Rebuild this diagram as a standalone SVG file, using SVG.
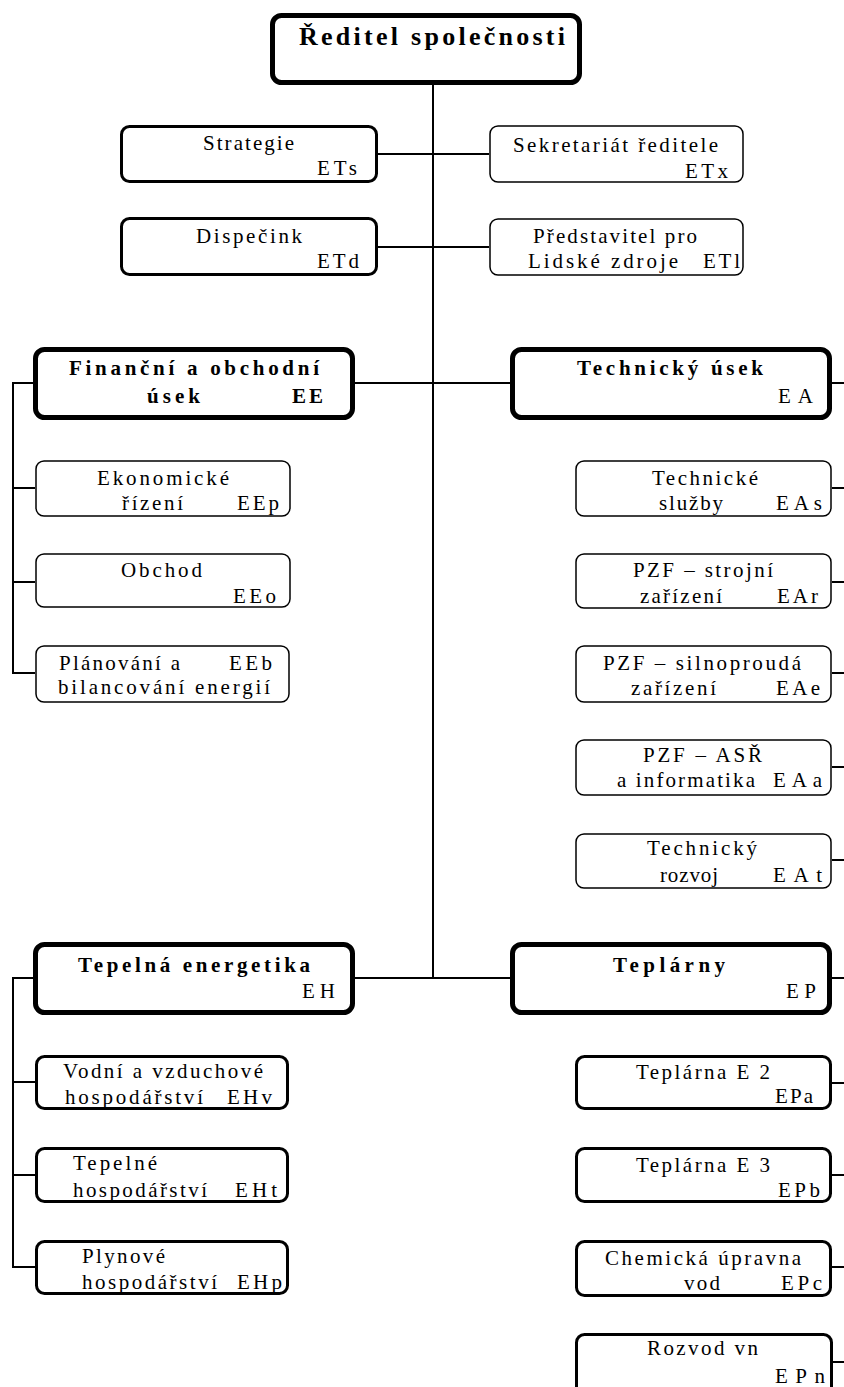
<svg xmlns="http://www.w3.org/2000/svg" width="844" height="1387" viewBox="0 0 844 1387">
<style>
text{font-family:"Liberation Serif","Times New Roman",serif;font-size:21px;fill:#000}
.b{font-weight:bold;font-size:21px}
.t{font-weight:bold;font-size:26px}
.k5{fill:#fff;stroke:#000;stroke-width:5}
.k3{fill:#fff;stroke:#000;stroke-width:3}
.k1{fill:#fff;stroke:#000;stroke-width:1.5}
.c{fill:none;stroke:#000;stroke-width:2}
</style>
<rect width="844" height="1387" fill="#fff"/>
<g id="connectors">
<path class="c" d="M433,85 V978"/>
<path class="c" d="M378,154 H489 M378,247 H489"/>
<path class="c" d="M355,383 H510 M355,978 H510"/>
<path class="c" d="M35,383 H13 V673 H35 M13,488 H35 M13,582 H35"/>
<path class="c" d="M35,978 H13 V1267 H35 M13,1082 H35 M13,1175 H35"/>
<path class="c" d="M832,383 H844 M832,488 H844 M832,582 H844 M832,673 H844 M832,767 H844 M832,860 H844 M832,978 H844 M832,1083 H844 M832,1175 H844 M832,1267 H844 M832,1362 H844"/>
</g>
<g id="reditel"><rect class="k5" x="272.5" y="15.5" width="307" height="67" rx="9"/>
<text class="t" x="299" y="45" textLength="266" lengthAdjust="spacing">Ředitel společnosti</text></g>
<g id="strategie"><rect class="k3" x="121.5" y="126.5" width="255" height="55" rx="8"/>
<text x="203" y="150" textLength="91" lengthAdjust="spacing">Strategie</text>
<text x="317" y="175" textLength="40" lengthAdjust="spacing">ETs</text></g>
<g id="dispecink"><rect class="k3" x="121.5" y="218.5" width="255" height="56" rx="8"/>
<text x="196" y="243" textLength="106" lengthAdjust="spacing">Dispečink</text>
<text x="317" y="268" textLength="42" lengthAdjust="spacing">ETd</text></g>
<g id="sekretariat"><rect class="k1" x="490" y="126" width="253" height="56" rx="8"/>
<text x="513" y="152" textLength="205" lengthAdjust="spacing">Sekretariát ředitele</text>
<text x="685" y="178" textLength="43" lengthAdjust="spacing">ETx</text></g>
<g id="predstavitel"><rect class="k1" x="490" y="219" width="253" height="56" rx="8"/>
<text x="533" y="243" textLength="164" lengthAdjust="spacing">Představitel pro</text>
<text x="528" y="268" textLength="150" lengthAdjust="spacing">Lidské zdroje</text>
<text x="703" y="268" textLength="37" lengthAdjust="spacing">ETl</text></g>
<g id="financni"><rect class="k5" x="35.5" y="349.5" width="317" height="68" rx="9"/>
<text class="b" x="69" y="375" textLength="250" lengthAdjust="spacing">Finanční a obchodní</text>
<text class="b" x="147" y="403" textLength="53" lengthAdjust="spacing">úsek</text>
<text class="b" x="292" y="403" textLength="31" lengthAdjust="spacing">EE</text></g>
<g id="technicky"><rect class="k5" x="512.5" y="349.5" width="317" height="68" rx="9"/>
<text class="b" x="577" y="375" textLength="186" lengthAdjust="spacing">Technický úsek</text>
<text x="778" y="403" textLength="35" lengthAdjust="spacing">EA</text></g>
<g id="ekonomicke"><rect class="k1" x="36" y="461" width="254" height="55" rx="8"/>
<text x="97" y="485" textLength="132" lengthAdjust="spacing">Ekonomické</text>
<text x="122" y="510" textLength="61" lengthAdjust="spacing">řízení</text>
<text x="237" y="510" textLength="42" lengthAdjust="spacing">EEp</text></g>
<g id="obchod"><rect class="k1" x="36" y="554" width="254" height="53" rx="8"/>
<text x="121" y="577" textLength="81" lengthAdjust="spacing">Obchod</text>
<text x="233" y="603" textLength="43" lengthAdjust="spacing">EEo</text></g>
<g id="planovani"><rect class="k1" x="36" y="646" width="253" height="56" rx="8"/>
<text x="59" y="670" textLength="121" lengthAdjust="spacing">Plánování a</text>
<text x="229" y="670" textLength="43" lengthAdjust="spacing">EEb</text>
<text x="58" y="694" textLength="212" lengthAdjust="spacing">bilancování energií</text></g>
<g id="sluzby"><rect class="k1" x="576" y="461" width="255" height="55" rx="8"/>
<text x="652" y="485" textLength="106" lengthAdjust="spacing">Technické</text>
<text x="659" y="510" textLength="64" lengthAdjust="spacing">služby</text>
<text x="776" y="510" textLength="46" lengthAdjust="spacing">EAs</text></g>
<g id="strojni"><rect class="k1" x="576" y="554" width="255" height="54" rx="8"/>
<text x="633" y="577" textLength="140" lengthAdjust="spacing">PZF – strojní</text>
<text x="640" y="603" textLength="82" lengthAdjust="spacing">zařízení</text>
<text x="777" y="603" textLength="41" lengthAdjust="spacing">EAr</text></g>
<g id="silnoprouda"><rect class="k1" x="576" y="646" width="255" height="56" rx="8"/>
<text x="603" y="670" textLength="198" lengthAdjust="spacing">PZF – silnoproudá</text>
<text x="631" y="695" textLength="85" lengthAdjust="spacing">zařízení</text>
<text x="776" y="695" textLength="44" lengthAdjust="spacing">EAe</text></g>
<g id="asr"><rect class="k1" x="576" y="740" width="255" height="55" rx="8"/>
<text x="643" y="762" textLength="119" lengthAdjust="spacing">PZF – ASŘ</text>
<text x="617" y="787" textLength="138" lengthAdjust="spacing">a informatika</text>
<text x="773" y="787" textLength="49" lengthAdjust="spacing">EAa</text></g>
<g id="rozvoj"><rect class="k1" x="576" y="834" width="255" height="54" rx="8"/>
<text x="647" y="855" textLength="110" lengthAdjust="spacing">Technický</text>
<text x="660" y="882" textLength="58" lengthAdjust="spacing">rozvoj</text>
<text x="773" y="882" textLength="49" lengthAdjust="spacing">EAt</text></g>
<g id="tepelna"><rect class="k5" x="35.5" y="944.5" width="317" height="68" rx="9"/>
<text class="b" x="78" y="972" textLength="232" lengthAdjust="spacing">Tepelná energetika</text>
<text x="302" y="998" textLength="33" lengthAdjust="spacing">EH</text></g>
<g id="teplarny"><rect class="k5" x="512.5" y="944.5" width="317" height="68" rx="9"/>
<text class="b" x="613" y="972" textLength="112" lengthAdjust="spacing">Teplárny</text>
<text x="786" y="998" textLength="30" lengthAdjust="spacing">EP</text></g>
<g id="vodni"><rect class="k3" x="36.5" y="1056.5" width="251" height="52" rx="8"/>
<text x="63" y="1078" textLength="200" lengthAdjust="spacing">Vodní a vzduchové</text>
<text x="65" y="1104" textLength="138" lengthAdjust="spacing">hospodářství</text>
<text x="227" y="1104" textLength="45" lengthAdjust="spacing">EHv</text></g>
<g id="tepelne"><rect class="k3" x="36.5" y="1148.5" width="251" height="53" rx="8"/>
<text x="73" y="1170" textLength="84" lengthAdjust="spacing">Tepelné</text>
<text x="73" y="1197" textLength="134" lengthAdjust="spacing">hospodářství</text>
<text x="235" y="1197" textLength="42" lengthAdjust="spacing">EHt</text></g>
<g id="plynove"><rect class="k3" x="36.5" y="1241.5" width="251" height="52" rx="8"/>
<text x="82" y="1263" textLength="83" lengthAdjust="spacing">Plynové</text>
<text x="82" y="1289" textLength="135" lengthAdjust="spacing">hospodářství</text>
<text x="237" y="1289" textLength="45" lengthAdjust="spacing">EHp</text></g>
<g id="e2"><rect class="k3" x="576.5" y="1056.5" width="254" height="52" rx="8"/>
<text x="636" y="1079" textLength="134" lengthAdjust="spacing">Teplárna E 2</text>
<text x="775" y="1103" textLength="38" lengthAdjust="spacing">EPa</text></g>
<g id="e3"><rect class="k3" x="576.5" y="1148.5" width="254" height="53" rx="8"/>
<text x="636" y="1172" textLength="134" lengthAdjust="spacing">Teplárna E 3</text>
<text x="778" y="1197" textLength="42" lengthAdjust="spacing">EPb</text></g>
<g id="chemicka"><rect class="k3" x="576.5" y="1241.5" width="254" height="54" rx="8"/>
<text x="605" y="1265" textLength="196" lengthAdjust="spacing">Chemická úpravna</text>
<text x="684" y="1290" textLength="36" lengthAdjust="spacing">vod</text>
<text x="781" y="1290" textLength="41" lengthAdjust="spacing">EPc</text></g>
<g id="rozvod"><rect class="k3" x="576.5" y="1334.5" width="255" height="60" rx="8"/>
<text x="647" y="1355" textLength="111" lengthAdjust="spacing">Rozvod vn</text>
<text x="775" y="1383" textLength="50" lengthAdjust="spacing">EPn</text></g>
</svg>
